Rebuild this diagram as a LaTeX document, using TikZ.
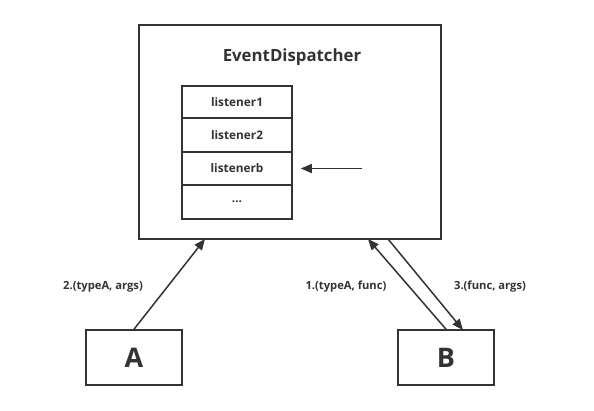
\documentclass[tikz,border=0pt]{standalone}
\usepackage{fontspec}
\setmainfont{Open Sans}
\usetikzlibrary{arrows.meta}
\definecolor{ink}{HTML}{333333}
\begin{document}
\begin{tikzpicture}[x=1pt,y=-1pt,
  box/.style={draw=ink,line width=1.6pt,minimum width=96pt,minimum height=55pt,inner sep=0pt,font=\fontsize{27}{30}\selectfont\bfseries,text=ink},
  cell/.style={draw=ink,line width=1.6pt,minimum width=110pt,inner sep=0pt,font=\fontsize{11.8}{14}\selectfont\bfseries,text=ink},
  lbl/.style={font=\fontsize{11.2}{13}\selectfont\bfseries,text=ink,inner sep=0pt},
  arr/.style={draw=ink,line width=1.5pt,-{Triangle[length=11pt,width=9pt]}}]
\useasboundingbox[fill=white] (0,0) rectangle (594,410);
\node[draw=ink,line width=1.6pt,minimum width=302pt,minimum height=214pt,inner sep=0pt] (disp) at (290,132) {};
\node[font=\fontsize{16.8}{20}\selectfont\bfseries,text=ink] (title) at (292,57) {EventDispatcher};
\node[cell,minimum height=32pt] (l1) at (237,102) {listener1};
\node[cell,minimum height=34pt] (l2) at (237,135) {listener2};
\node[cell,minimum height=33pt] (lb) at (237,168.5) {listenerb};
\node[cell,minimum height=34pt] (ld) at (237,202) {...};
\node[box] (A) at (134,357.5) {A};
\node[box] (B) at (446,357.5) {B};
\coordinate (ptr) at (362,168.5);
\coordinate (da) at (205,239);
\coordinate (d1) at (368,239);
\coordinate (d3) at (388,239);
\coordinate (b3) at (463,330);
\draw[arr] (ptr) -- ([xshift=8pt]lb.east);
\draw[arr] (A.north) -- (da);
\draw[arr] (B.north) -- (d1);
\draw[arr] (d3) -- (b3);
\node[lbl] (t2) at (103,287) {2.(typeA, args)};
\node[lbl] (t1) at (346,287) {1.(typeA, func)};
\node[lbl] (t3) at (490,287) {3.(func, args)};
\end{tikzpicture}
\end{document}
